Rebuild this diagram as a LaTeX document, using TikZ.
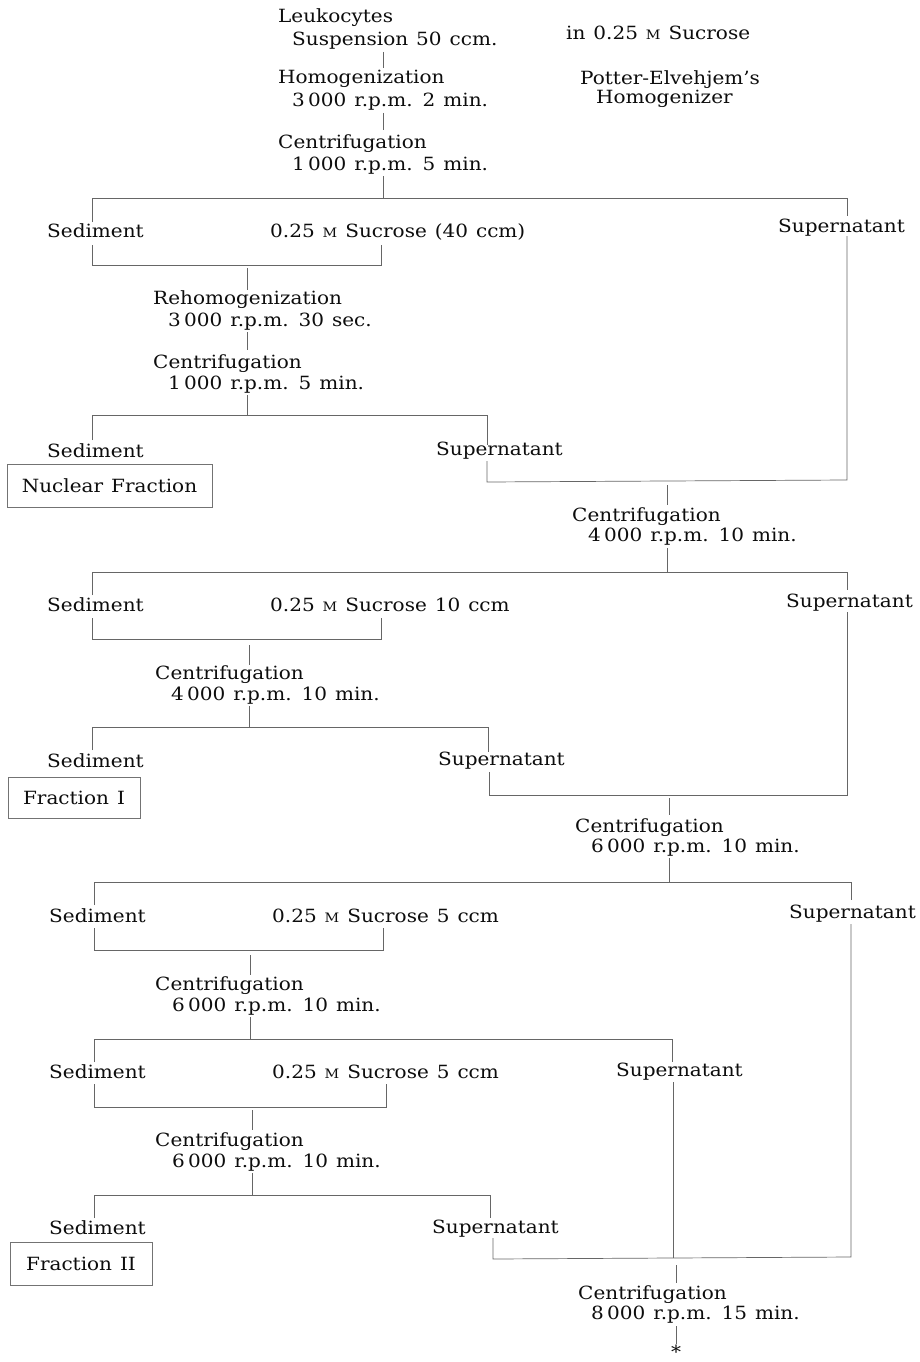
\documentclass[tikz,border=0pt]{standalone}
\usepackage{fontspec}
\setmainfont[FakeStretch=1.1,WordSpace=1.25]{DejaVu Serif}
\newcommand{\smM}{{\fontsize{13}{12}\selectfont M}}
\newcommand{\ths}{\hspace{0.18em}}
\begin{document}
\begin{tikzpicture}[x=1pt,y=-1pt,
  txt/.style={anchor=base west,inner sep=0pt,font=\fontsize{18.2}{20}\selectfont,text=black!95},
  ln/.style={draw=black!60,line width=0.7pt},
  frac/.style={draw=black!55,line width=0.7pt,inner sep=0pt,font=\fontsize{18.2}{20}\selectfont,text=black!95}]
\useasboundingbox (0,0) rectangle (919,1362);
\fill[white] (0,0) rectangle (919,1362);

% ---------- texts ----------
\node[txt] (leu)  at (278,23)  {Leukocytes};
\node[txt] (susp) at (292,46)  {Suspension 50 ccm.};
\node[txt] (ins)  at (566,40)  {in 0.25 \smM{} Sucrose};
\node[txt] (hom)  at (278,84)  {Homogenization};
\node[txt] (homb) at (292,107) {3\ths000 r.p.m. 2 min.};
\node[txt] (pot)  at (580,85)  {Potter-Elvehjem's};
\node[txt] (potb) at (596,104) {Homogenizer};
\node[txt] (ca)   at (278,149) {Centrifugation};
\node[txt] (cab)  at (292,170) {1\ths000 r.p.m. 5 min.};

\node[txt] (seda) at (47,237)  {Sediment};
\node[txt] (suca) at (270,237) {0.25 \smM{} Sucrose (40 ccm)};
\node[txt] (supa) at (778,232) {Supernatant};
\node[txt] (reh)  at (153,304) {Rehomogenization};
\node[txt] (rehb) at (168,326) {3\ths000 r.p.m. 30 sec.};
\node[txt] (cb)   at (153,368) {Centrifugation};
\node[txt] (cbb)  at (168,389) {1\ths000 r.p.m. 5 min.};
\node[txt] (sedb) at (47,457)  {Sediment};
\node[txt] (supb) at (436,455) {Supernatant};
\node[frac,minimum width=205pt,minimum height=43pt] (nuc) at (109.5,485.5) {Nuclear Fraction};

\node[txt] (cc)   at (572,521) {Centrifugation};
\node[txt] (ccb)  at (588,541) {4\ths000 r.p.m. 10 min.};
\node[txt] (sedc) at (47,611)  {Sediment};
\node[txt] (succ) at (270,611) {0.25 \smM{} Sucrose 10 ccm};
\node[txt] (supc) at (786,607) {Supernatant};
\node[txt] (cd)   at (155,679) {Centrifugation};
\node[txt] (cdb)  at (171,700) {4\ths000 r.p.m. 10 min.};
\node[txt] (sedd) at (47,767)  {Sediment};
\node[txt] (supd) at (438,765) {Supernatant};
\node[frac,minimum width=132pt,minimum height=41pt] (fi) at (74,797.5) {Fraction I};

\node[txt] (ce)   at (575,832) {Centrifugation};
\node[txt] (ceb)  at (591,852) {6\ths000 r.p.m. 10 min.};
\node[txt] (sede) at (49,922)  {Sediment};
\node[txt] (suce) at (272,922) {0.25 \smM{} Sucrose 5 ccm};
\node[txt] (supe) at (789,918) {Supernatant};
\node[txt] (cf)   at (155,990) {Centrifugation};
\node[txt] (cfb)  at (172,1011){6\ths000 r.p.m. 10 min.};
\node[txt] (sedf) at (49,1078) {Sediment};
\node[txt] (sucf) at (272,1078){0.25 \smM{} Sucrose 5 ccm};
\node[txt] (supf) at (616,1076){Supernatant};
\node[txt] (cg)   at (155,1146){Centrifugation};
\node[txt] (cgb)  at (172,1167){6\ths000 r.p.m. 10 min.};
\node[txt] (sedg) at (49,1234) {Sediment};
\node[txt] (supg) at (432,1233){Supernatant};
\node[frac,minimum width=142pt,minimum height=43pt] (fii) at (81,1263.5) {Fraction II};
\node[txt] (ch)   at (578,1299){Centrifugation};
\node[txt] (chb)  at (591,1319){8\ths000 r.p.m. 15 min.};
\node[anchor=north,inner sep=0pt,font=\fontsize{18.2}{20}\selectfont,text=black!95] (star) at (676,1345) {*};

% ---------- coordinates ----------
\coordinate (a1) at (383,52);  \coordinate (a2) at (383,68);
\coordinate (a3) at (383,113); \coordinate (a4) at (383,130);
\coordinate (a5) at (383,176); \coordinate (a6) at (383,198);
\coordinate (bL) at (92,198);  \coordinate (bR) at (847,198);
\coordinate (bl2) at (92,222); \coordinate (br2) at (847,216);
\coordinate (rA) at (847,236); \coordinate (rB) at (847,480);
\coordinate (s1) at (92,245);  \coordinate (s2) at (92,265);
\coordinate (s3) at (381,245); \coordinate (s4) at (381,265);
\coordinate (s5) at (247,268); \coordinate (s6) at (247,290);
\coordinate (s7) at (247,332); \coordinate (s8) at (247,350);
\coordinate (s9) at (247,395); \coordinate (s10) at (247,415);
\coordinate (cL) at (92,415);  \coordinate (cR) at (487,415);
\coordinate (cl2) at (92,440); \coordinate (cr2) at (487,445);
\coordinate (cr3) at (487,461); \coordinate (cr4) at (487,482);
\coordinate (m1) at (667,485); \coordinate (m2) at (667,505);
\coordinate (m3) at (667,548); \coordinate (m4) at (667,572);

\coordinate (dL) at (92,572);  \coordinate (dR) at (847,572);
\coordinate (dl2) at (92,595); \coordinate (dr2) at (847,590);
\coordinate (rC) at (847,612); \coordinate (rD) at (847,795);
\coordinate (t1) at (92,618);  \coordinate (t2) at (92,639);
\coordinate (t3) at (381,618); \coordinate (t4) at (381,639);
\coordinate (t5) at (249,645); \coordinate (t6) at (249,665);
\coordinate (t7) at (249,706); \coordinate (t8) at (249,727);
\coordinate (eL) at (92,727);  \coordinate (eR) at (488,727);
\coordinate (el2) at (92,750); \coordinate (er2) at (488,752);
\coordinate (er3) at (489,772); \coordinate (er4) at (489,795);
\coordinate (n1) at (669,798); \coordinate (n2) at (669,815);
\coordinate (n3) at (669,858); \coordinate (n4) at (669,882);

\coordinate (fL) at (94,882);  \coordinate (fR) at (851,882);
\coordinate (fl2) at (94,905); \coordinate (fr2) at (851,900);
\coordinate (rE) at (851,924); \coordinate (rF) at (851,1257);
\coordinate (u1) at (94,928);  \coordinate (u2) at (94,950);
\coordinate (u3) at (383,928); \coordinate (u4) at (383,950);
\coordinate (u5) at (250,955); \coordinate (u6) at (250,975);
\coordinate (u7) at (250,1017);\coordinate (u8) at (250,1039);
\coordinate (gL) at (94,1039); \coordinate (gR) at (672,1039);
\coordinate (gl2) at (94,1062);\coordinate (gr2) at (672,1062);
\coordinate (gr3) at (673,1082);\coordinate (gr4) at (673,1258);
\coordinate (v1) at (94,1084); \coordinate (v2) at (94,1107);
\coordinate (v3) at (386,1084);\coordinate (v4) at (386,1107);
\coordinate (v5) at (252,1110);\coordinate (v6) at (252,1130);
\coordinate (v7) at (252,1173);\coordinate (v8) at (252,1195);
\coordinate (hL) at (94,1195); \coordinate (hR) at (490,1195);
\coordinate (hl2) at (94,1218);\coordinate (hr2) at (490,1218);
\coordinate (hr3) at (493,1238);\coordinate (hr4) at (493,1259);
\coordinate (w1) at (676,1265);\coordinate (w2) at (676,1283);
\coordinate (w3) at (676,1326);\coordinate (w4) at (676,1344);

% ---------- connectors ----------
\draw[ln] (a1) -- (a2) (a3) -- (a4) (a5) -- (a6);
\draw[ln] (bl2) -- (bL) -- (bR) -- (br2);
\draw[ln] (rA) -- (rB) -- (cr4) -- (cr3);
\draw[ln] (s1) -- (s2) -- (s4) -- (s3);
\draw[ln] (s5) -- (s6) (s7) -- (s8) (s9) -- (s10);
\draw[ln] (cl2) -- (cL) -- (cR) -- (cr2);
\draw[ln] (m1) -- (m2) (m3) -- (m4);

\draw[ln] (dl2) -- (dL) -- (dR) -- (dr2);
\draw[ln] (rC) -- (rD) -- (er4) -- (er3);
\draw[ln] (t1) -- (t2) -- (t4) -- (t3);
\draw[ln] (t5) -- (t6) (t7) -- (t8);
\draw[ln] (el2) -- (eL) -- (eR) -- (er2);
\draw[ln] (n1) -- (n2) (n3) -- (n4);

\draw[ln] (fl2) -- (fL) -- (fR) -- (fr2);
\draw[ln] (rE) -- (rF) -- (hr4) -- (hr3);
\draw[ln] (u1) -- (u2) -- (u4) -- (u3);
\draw[ln] (u5) -- (u6) (u7) -- (u8);
\draw[ln] (gl2) -- (gL) -- (gR) -- (gr2);
\draw[ln] (gr3) -- (gr4);
\draw[ln] (v1) -- (v2) -- (v4) -- (v3);
\draw[ln] (v5) -- (v6) (v7) -- (v8);
\draw[ln] (hl2) -- (hL) -- (hR) -- (hr2);
\draw[ln] (w1) -- (w2) (w3) -- (w4);
\end{tikzpicture}
\end{document}
